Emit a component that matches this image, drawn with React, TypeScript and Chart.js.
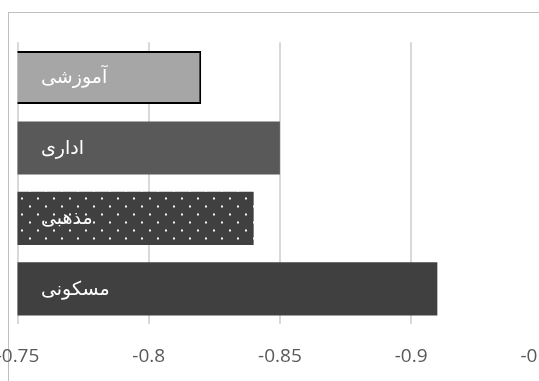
import React, { useEffect, useRef } from "react";
import { Chart, registerables } from "chart.js";

Chart.register(...registerables);

const categories = ["آموزشی", "اداری", "مذهبی", "مسکونی"];
const values = [-0.82, -0.85, -0.84, -0.91];
const tickValues = [-0.75, -0.8, -0.85, -0.9, -0.95];
const tickLabels = ["-0.75", "-0.8", "-0.85", "-0.9", "-0.95"];
const axisMin = -0.95;
const axisMax = -0.75;

const OFFSET_X = 40;
const CANVAS_W = 640;
const CANVAS_H = 400;

function makeDotPattern(): CanvasPattern | string {
  const c = document.createElement("canvas");
  c.width = 16;
  c.height = 16;
  const g = c.getContext("2d");
  if (!g) return "#404040";
  g.fillStyle = "#404040";
  g.fillRect(0, 0, 16, 16);
  g.fillStyle = "rgba(255,255,255,0.95)";
  g.fillRect(13, 5.5, 2, 2);
  g.fillRect(5, 13.5, 2, 2);
  const p = g.createPattern(c, "repeat");
  return p || "#404040";
}

const inBarLabels = {
  id: "inBarLabels",
  afterDatasetsDraw(chart: any) {
    const { ctx, chartArea } = chart;
    const yScale = chart.scales.y;
    ctx.save();
    ctx.font = '19px "DejaVu Sans"';
    ctx.fillStyle = "#ffffff";
    ctx.textAlign = "left";
    ctx.textBaseline = "middle";
    categories.forEach((c, i) => {
      ctx.fillText(c, chartArea.left + 23.5, yScale.getPixelForValue(i) + 1);
    });
    ctx.restore();
  },
};

export default function App() {
  const ref = useRef<HTMLCanvasElement>(null);
  useEffect(() => {
    if (!ref.current) return;
    const pattern = makeDotPattern();
    const chart = new Chart(ref.current, {
      type: "bar",
      data: {
        labels: categories,
        datasets: [
          {
            data: values,
            backgroundColor: ["#a6a6a6", "#595959", pattern as any, "#404040"],
            borderColor: ["#000000", "rgba(0,0,0,0)", "rgba(0,0,0,0)", "rgba(0,0,0,0)"],
            borderWidth: [2, 0, 0, 0],
            borderSkipped: "start",
            barPercentage: 0.755,
            categoryPercentage: 1,
          },
        ],
      },
      options: {
        indexAxis: "y",
        animation: false,
        responsive: false,
        maintainAspectRatio: false,
        layout: {
          padding: { left: 57.5, right: 57.7, top: 42.3, bottom: 10.1 },
        },
        plugins: {
          legend: { display: false },
          tooltip: { enabled: false },
          title: { display: false },
        },
        scales: {
          y: {
            type: "category",
            display: false,
          },
          x: {
            type: "linear",
            min: axisMin,
            max: axisMax,
            reverse: true,
            afterBuildTicks: (s: any) => {
              s.ticks = tickValues.map((v) => ({ value: v }));
            },
            grid: {
              color: "#d9d9d9",
              lineWidth: 2,
              drawTicks: false,
            },
            border: { display: false },
            ticks: {
              padding: 21.5,
              color: "#595959",
              font: { family: '"Open Sans"', size: 19 },
              maxRotation: 0,
              autoSkip: false,
              callback: (v: any) => {
                const idx = tickValues.findIndex((t) => Math.abs(t - Number(v)) < 1e-9);
                return idx >= 0 ? tickLabels[idx] : "";
              },
            },
          },
        },
      },
      plugins: [inBarLabels],
    });
    return () => chart.destroy();
  }, []);

  return (
    <div
      style={{
        position: "fixed",
        left: 0,
        top: 0,
        width: 539,
        height: 381,
        overflow: "hidden",
        background: "#ffffff",
      }}
    >
      <div
        style={{
          position: "absolute",
          left: 8,
          top: 12,
          width: 600,
          height: 400,
          borderTop: "1px solid #bfbfbf",
          borderLeft: "1px solid #bfbfbf",
        }}
      />
      <canvas
        ref={ref}
        width={CANVAS_W}
        height={CANVAS_H}
        style={{ position: "absolute", left: -OFFSET_X, top: 0, width: CANVAS_W, height: CANVAS_H }}
      />
    </div>
  );
}
